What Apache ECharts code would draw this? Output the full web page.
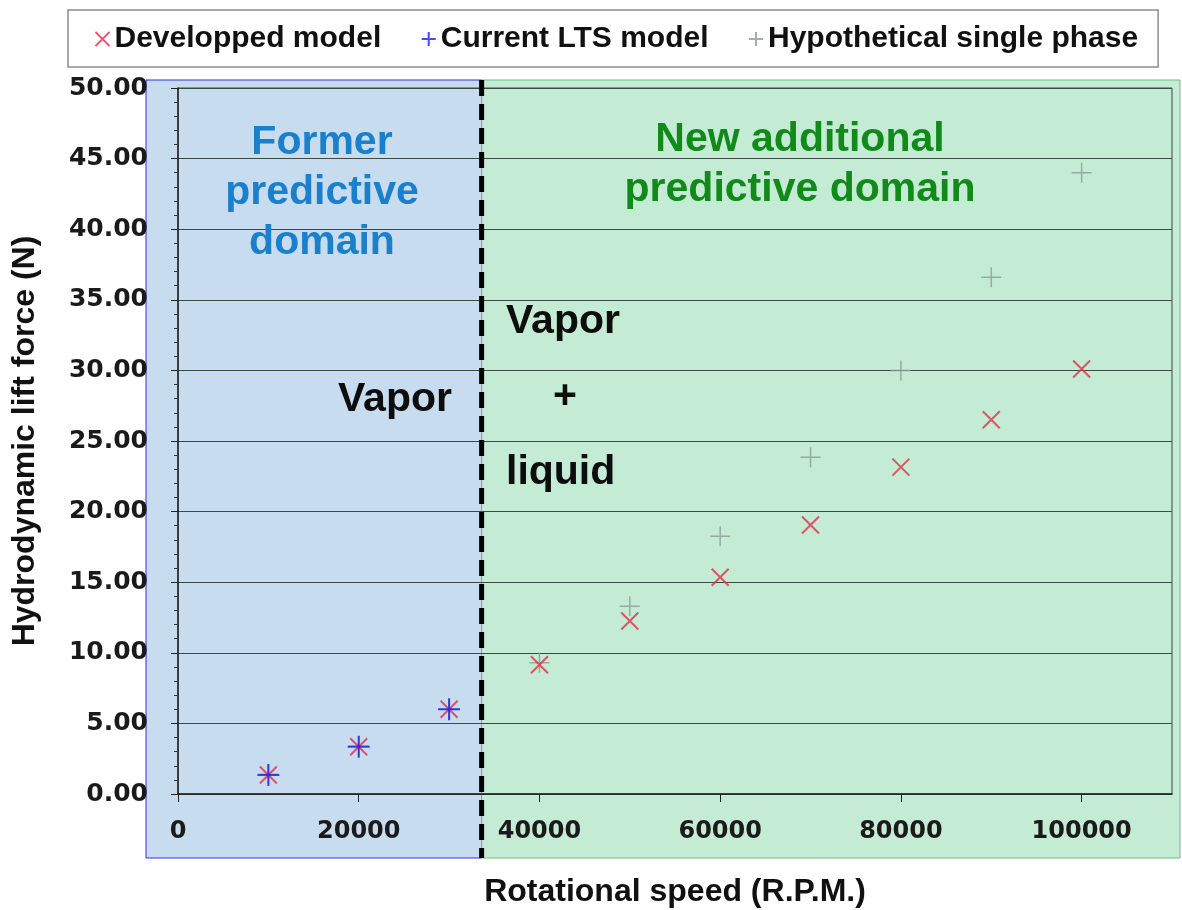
<!DOCTYPE html>
<html>
<head>
<meta charset="utf-8">
<script src="https://cdn.jsdelivr.net/npm/echarts@6/dist/echarts.min.js"></script>
<style>
  html, body { margin: 0; padding: 0; background: #fff; }
  #chart { width: 1182px; height: 910px; }
</style>
</head>
<body>
<div id="chart"></div>
<script>
// rotational speed (R.P.M.)
const speeds = [10000, 20000, 30000, 40000, 50000, 60000, 70000, 80000, 90000, 100000];
// lift force (N)
const developped = [1.35, 3.35, 6.0, 9.15, 12.25, 15.35, 19.05, 23.15, 26.5, 30.1];
const ltsSpeeds = [10000, 20000, 30000];
const ltsModel = [1.35, 3.35, 6.0];
const singlePhase = [1.4, 3.4, 6.0, 9.3, 13.3, 18.25, 23.85, 30.0, 36.6, 44.0];
const domainSplit = 33600; // dashed boundary between the two domains

const crossPath = 'path://M0,0L10,10M10,0L0,10';
const plusPath = 'path://M5,0L5,10M0,5L10,5';
const labelFont = { fontFamily: 'DejaVu Sans', fontWeight: 'bold', fontSize: 24, color: '#1a1a1a' };
const titleFont = { fontFamily: 'Liberation Sans', fontWeight: 'bold', color: '#111' };

function pairs(xs, ys) {
    return xs.map((x, i) => [x, ys[i]]);
}

const chart = echarts.init(document.getElementById('chart'));
let option = {
    animation: false,
    backgroundColor: '#ffffff',
    legend: {
        left: 68, top: 10,
        padding: [14, 20, 13, 25],
        itemGap: 38,
        itemWidth: 14, itemHeight: 14,
        backgroundColor: '#ffffff',
        borderColor: '#8c8c8c',
        borderWidth: 1.5,
        textStyle: Object.assign({ fontSize: 30 }, titleFont),
        data: ['Developped model', 'Current LTS model', 'Hypothetical single phase']
    },
    grid: {
        left: 178, right: 10, top: 88, bottom: 116,
        outerBoundsMode: 'none',
        show: true, backgroundColor: 'transparent',
        borderColor: '#3c4a44', borderWidth: 1
    },
    xAxis: {
        type: 'value',
        min: 0, max: 110000, interval: 20000,
        name: 'Rotational speed (R.P.M.)',
        nameLocation: 'middle',
        nameGap: 82,
        nameTextStyle: Object.assign({ fontSize: 32 }, titleFont),
        axisLine: { show: true, lineStyle: { color: '#222', width: 1.5 } },
        axisTick: { show: true, length: 8, lineStyle: { color: '#222' } },
        axisLabel: Object.assign({ margin: 26, showMaxLabel: false, formatter: v => String(v) }, labelFont),
        splitLine: { show: false }
    },
    yAxis: {
        type: 'value',
        min: 0, max: 50, interval: 5,
        name: 'Hydrodynamic lift force (N)',
        nameLocation: 'middle',
        nameGap: 137,
        nameTextStyle: Object.assign({ fontSize: 32 }, titleFont),
        axisLine: { show: true, lineStyle: { color: '#222', width: 1.5 } },
        axisTick: { show: true, length: 7, lineStyle: { color: '#222' } },
        minorTick: { show: true, splitNumber: 5, length: 4, lineStyle: { color: '#333' } },
        axisLabel: Object.assign({ margin: 30, formatter: v => v.toFixed(2) }, labelFont, { fontSize: 25 }),
        splitLine: { show: true, lineStyle: { color: '#3c4a44', width: 1 } }
    },
    series: [
        {
            name: 'Hypothetical single phase',
            type: 'scatter',
            symbol: plusPath, symbolSize: 20,
            itemStyle: { color: 'none', borderColor: '#8c9c94', borderWidth: 1.5 },
            data: pairs(speeds, singlePhase),
            z: 3
        },
        {
            name: 'Developped model',
            type: 'scatter',
            symbol: crossPath, symbolSize: 17,
            itemStyle: { color: 'none', borderColor: '#e0304a', borderWidth: 2 },
            data: pairs(speeds, developped),
            z: 4
        },
        {
            name: 'Current LTS model',
            type: 'scatter',
            symbol: plusPath, symbolSize: 22,
            itemStyle: { color: 'none', borderColor: '#1a1aee', borderWidth: 2 },
            data: pairs(ltsSpeeds, ltsModel),
            z: 5
        }
    ]
};
chart.setOption(option);

// background panels and boundary line, placed through the axes
const splitX = chart.convertToPixel({ xAxisIndex: 0 }, domainSplit);
const panelTop = 80, panelBottom = 858, panelLeft = 146, panelRight = 1180;
const heading = Object.assign({ fontSize: 41, align: 'center', lineHeight: 50 }, titleFont);
const phase = Object.assign({ fontSize: 41, verticalAlign: 'middle' }, titleFont, { fill: '#0d0d0d' });

chart.setOption({
    graphic: [
        { type: 'rect', z: -10, shape: { x: panelLeft, y: panelTop, width: splitX - panelLeft, height: panelBottom - panelTop },
          style: { fill: '#c7dcef', stroke: '#3030e0', lineWidth: 1 } },
        { type: 'rect', z: -10, shape: { x: splitX, y: panelTop, width: panelRight - splitX, height: panelBottom - panelTop },
          style: { fill: '#c4ebd4', stroke: '#6fbf7f', lineWidth: 1 } },
        { type: 'line', z: 20, shape: { x1: splitX, y1: panelTop, x2: splitX, y2: panelBottom },
          style: { stroke: '#000', lineWidth: 5, lineDash: [16, 8] } },
        { type: 'text', z: 20, x: 322, y: 118,
          style: Object.assign({ text: 'Former\npredictive\ndomain', fill: '#1a7fcc' }, heading) },
        { type: 'text', z: 20, x: 800, y: 115,
          style: Object.assign({ text: 'New additional\npredictive domain', fill: '#128a1a' }, heading) },
        { type: 'text', z: 20, x: 338, y: 400, style: Object.assign({ text: 'Vapor' }, phase) },
        { type: 'text', z: 20, x: 506, y: 322, style: Object.assign({ text: 'Vapor' }, phase) },
        { type: 'text', z: 20, x: 553, y: 397, style: Object.assign({ text: '+' }, phase) },
        { type: 'text', z: 20, x: 506, y: 473, style: Object.assign({ text: 'liquid' }, phase) }
    ]
});
</script>
</body>
</html>
